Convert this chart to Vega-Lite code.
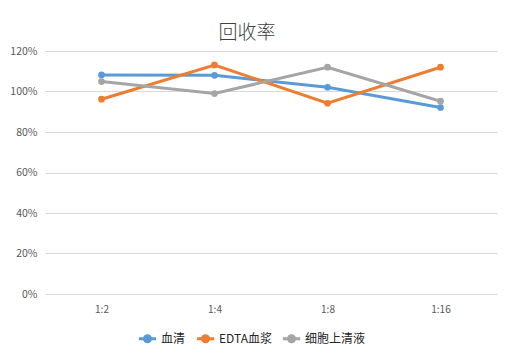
{
  "$schema": "https://vega.github.io/schema/vega-lite/v6.json",
  "autosize": {"type": "none"},
  "width": 452,
  "height": 243,
  "padding": {"left": 45, "top": 51, "right": 16, "bottom": 64},
  "background": "white",
  "title": {
    "text": "回收率",
    "font": "Noto Sans CJK SC",
    "fontSize": 19,
    "fontWeight": 300,
    "color": "#404040",
    "anchor": "middle",
    "dx": -24,
    "offset": 3
  },
  "data": {
    "values": [
      {"ratio": "1:2", "series": "血清", "value": 1.082},
      {"ratio": "1:4", "series": "血清", "value": 1.080},
      {"ratio": "1:8", "series": "血清", "value": 1.021},
      {"ratio": "1:16", "series": "血清", "value": 0.921},
      {"ratio": "1:2", "series": "EDTA血浆", "value": 0.962},
      {"ratio": "1:4", "series": "EDTA血浆", "value": 1.131},
      {"ratio": "1:8", "series": "EDTA血浆", "value": 0.942},
      {"ratio": "1:16", "series": "EDTA血浆", "value": 1.120},
      {"ratio": "1:2", "series": "细胞上清液", "value": 1.049},
      {"ratio": "1:4", "series": "细胞上清液", "value": 0.990},
      {"ratio": "1:8", "series": "细胞上清液", "value": 1.120},
      {"ratio": "1:16", "series": "细胞上清液", "value": 0.952}
    ]
  },
  "mark": {"type": "line", "strokeWidth": 3, "point": {"size": 45, "filled": true}},
  "encoding": {
    "x": {
      "field": "ratio",
      "type": "ordinal",
      "sort": ["1:2", "1:4", "1:8", "1:16"],
      "scale": {"type": "point", "padding": 0.5},
      "axis": {
        "title": null,
        "labelAngle": 0,
        "domain": false,
        "ticks": false,
        "labelPadding": 10,
        "labelFont": "Noto Sans CJK SC",
        "labelFontSize": 10,
        "labelColor": "#595959"
      }
    },
    "y": {
      "field": "value",
      "type": "quantitative",
      "scale": {"domain": [0, 1.2], "nice": false},
      "axis": {
        "title": null,
        "values": [0, 0.2, 0.4, 0.6, 0.8, 1.0, 1.2],
        "format": ".0%",
        "domain": false,
        "ticks": false,
        "labelPadding": 8,
        "gridColor": "#d9d9d9",
        "gridWidth": 1,
        "labelFont": "Noto Sans CJK SC",
        "labelFontSize": 10.5,
        "labelColor": "#595959"
      }
    },
    "color": {
      "field": "series",
      "type": "nominal",
      "scale": {
        "domain": ["血清", "EDTA血浆", "细胞上清液"],
        "range": ["#5B9BD5", "#ED7D31", "#A5A5A5"]
      },
      "legend": {
        "title": null,
        "orient": "none",
        "direction": "horizontal",
        "legendX": 92,
        "legendY": 277,
        "symbolType": "M-1,0L1,0M-0.35,0A0.35,0.35 0 1,1 0.35,0A0.35,0.35 0 1,1 -0.35,0Z",
        "symbolSize": 300,
        "symbolStrokeWidth": 3,
        "labelFont": "Noto Sans CJK SC",
        "labelFontSize": 12,
        "labelColor": "#262626",
        "columnPadding": 4,
        "symbolOffset": 0,
        "labelOffset": 3
      }
    }
  },
  "config": {
    "view": {"stroke": null}
  }
}
